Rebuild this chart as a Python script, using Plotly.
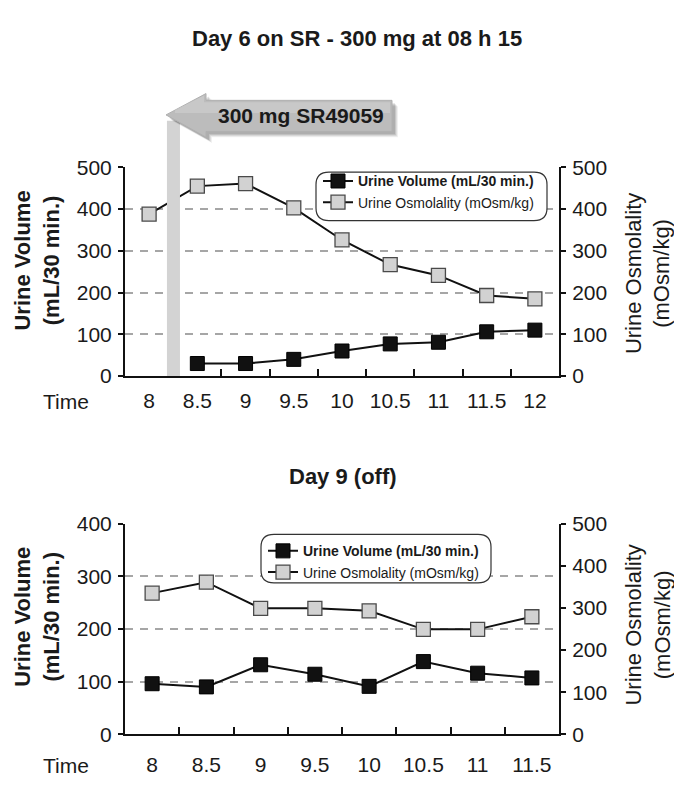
import plotly.graph_objects as go

W, H = 674, 788
FONT = "Liberation Sans, Arial, Helvetica, sans-serif"
INK = "#1a1a1a"

# ---- Day 6: on SR49059, 300 mg given at 08 h 15 ----
times_day6 = [8, 8.5, 9, 9.5, 10, 10.5, 11, 11.5, 12]
labels_day6 = ["8", "8.5", "9", "9.5", "10", "10.5", "11", "11.5", "12"]
volume_times_day6 = [8.5, 9, 9.5, 10, 10.5, 11, 11.5, 12]
volume_day6 = [30, 30, 40, 60, 77, 81, 106, 110]          # mL/30 min
osmolality_day6 = [388, 455, 461, 403, 326, 267, 241, 193, 185]  # mOsm/kg
dose_time = 8.25
dose_label = "300 mg SR49059"

# ---- Day 9: off treatment ----
times_day9 = [8, 8.5, 9, 9.5, 10, 10.5, 11, 11.5]
labels_day9 = ["8", "8.5", "9", "9.5", "10", "10.5", "11", "11.5"]
volume_day9 = [96, 90, 132, 114, 91, 138, 116, 107]
osmolality_day9 = [335, 361, 299, 299, 293, 249, 249, 279]

vol_name = "<b>Urine Volume (mL/30 min.)</b>"
osm_name = "Urine Osmolality (mOsm/kg)"


def px(x):
    return x / W


def py(y):
    return 1 - y / H


def as_label(t):
    return f"{t:g}"


# panel frames (pixels)
X0, X1 = 125, 559
TOP_Y0, TOP_Y1 = 160, 375
BOT_Y0, BOT_Y1 = 527, 744

fig = go.Figure()

vol_style = dict(mode="lines+markers",
                 line=dict(color="#111111", width=2),
                 marker=dict(symbol="square", size=14, color="#111111",
                             line=dict(color="#000000", width=1)))
osm_style = dict(mode="lines+markers",
                 line=dict(color="#111111", width=2),
                 marker=dict(symbol="square", size=14, color="#d2d2d2",
                             line=dict(color="#4a4a4a", width=1.3)))

fig.add_trace(go.Scatter(x=[as_label(t) for t in volume_times_day6],
                         y=volume_day6, name=vol_name,
                         xaxis="x", yaxis="y", legend="legend", **vol_style))
fig.add_trace(go.Scatter(x=[as_label(t) for t in times_day6],
                         y=osmolality_day6, name=osm_name,
                         xaxis="x", yaxis="y2", legend="legend", **osm_style))
fig.add_trace(go.Scatter(x=[as_label(t) for t in times_day9],
                         y=volume_day9, name=vol_name,
                         xaxis="x2", yaxis="y3", legend="legend2", **vol_style))
fig.add_trace(go.Scatter(x=[as_label(t) for t in times_day9],
                         y=osmolality_day9, name=osm_name,
                         xaxis="x2", yaxis="y4", legend="legend2", **osm_style))

tickfont = dict(family=FONT, size=21, color=INK)


def xaxis(domain, labels, anchor, standoff):
    return dict(domain=domain, type="category", categoryorder="array",
                categoryarray=labels, range=[-0.5, len(labels) - 0.5],
                anchor=anchor, tickson="boundaries", ticks="inside",
                ticklen=7, tickwidth=2, tickcolor="#111111", tickangle=0,
                tickfont=tickfont, ticklabelstandoff=standoff,
                showline=True, linecolor="#111111", linewidth=2,
                showgrid=False, zeroline=False, fixedrange=True)


def yaxis(domain, rng, anchor, side="left", grid=False, overlaying=None,
          labels=True, ticks="outside", line=True):
    d = dict(domain=domain, range=rng, anchor=anchor, side=side,
             dtick=100, tick0=0, ticks=ticks, ticklen=5, tickwidth=2,
             tickcolor="#111111", showticklabels=labels, tickfont=tickfont,
             ticklabelstandoff=2,
             showline=line, linecolor="#111111", linewidth=2,
             showgrid=grid, gridcolor="#a6a6a6", gridwidth=1.7,
             griddash="8px,7px", zeroline=False, fixedrange=True)
    if overlaying:
        d["overlaying"] = overlaying
    return d


top_dom = [py(TOP_Y1), py(TOP_Y0)]
bot_dom = [py(BOT_Y1), py(BOT_Y0)]
x_dom = [px(X0), px(X1)]

fig.update_layout(
    width=W, height=H,
    margin=dict(l=0, r=0, t=0, b=0),
    paper_bgcolor="white", plot_bgcolor="white",
    font=dict(family=FONT, color=INK),
    xaxis=xaxis(x_dom, labels_day6, "y", 5),
    xaxis2=xaxis(x_dom, labels_day9, "y3", 11),
    yaxis=yaxis(top_dom, [0, 500], "x", grid=True),
    yaxis2=yaxis(top_dom, [0, 500], "x", side="right", overlaying="y"),
    yaxis3=yaxis(bot_dom, [0, 400], "x2", grid=True),
    yaxis4=yaxis(bot_dom, [0, 500], "x2", side="right", overlaying="y3"),
    # inner halves of the crossing tick marks
    yaxis5=yaxis(top_dom, [0, 500], "x", overlaying="y", labels=False,
                 ticks="inside", line=False),
    yaxis6=yaxis(top_dom, [0, 500], "x", side="right", overlaying="y",
                 labels=False, ticks="inside", line=False),
    yaxis7=yaxis(bot_dom, [0, 400], "x2", overlaying="y3", labels=False,
                 ticks="inside", line=False),
    yaxis8=yaxis(bot_dom, [0, 500], "x2", side="right", overlaying="y3",
                 labels=False, ticks="inside", line=False),
    legend=dict(x=px(318), y=py(158), xanchor="left", yanchor="top",
                bgcolor="rgba(0,0,0,0)", borderwidth=0, tracegroupgap=0,
                font=dict(family=FONT, size=14, color=INK)),
    legend2=dict(x=px(263), y=py(539), xanchor="left", yanchor="top",
                 bgcolor="rgba(0,0,0,0)", borderwidth=0, tracegroupgap=0,
                 font=dict(family=FONT, size=14, color=INK)),
    showlegend=True,
)


def rounded_box(x0, y0, x1, y1, r):
    pts = [
        f"M {px(x0 + r)},{py(y0)}",
        f"L {px(x1 - r)},{py(y0)}",
        f"Q {px(x1)},{py(y0)} {px(x1)},{py(y0 + r)}",
        f"L {px(x1)},{py(y1 - r)}",
        f"Q {px(x1)},{py(y1)} {px(x1 - r)},{py(y1)}",
        f"L {px(x0 + r)},{py(y1)}",
        f"Q {px(x0)},{py(y1)} {px(x0)},{py(y1 - r)}",
        f"L {px(x0)},{py(y0 + r)}",
        f"Q {px(x0)},{py(y0)} {px(x0 + r)},{py(y0)}",
        "Z",
    ]
    return " ".join(pts)


def polygon(points, dx=0, dy=0):
    s = " ".join(("M" if i == 0 else "L") + f" {px(x + dx)},{py(y + dy)}"
                 for i, (x, y) in enumerate(points))
    return s + " Z"


# legend frames
for box in [(316, 165, 547, 215), (261, 538, 491, 588)]:
    fig.add_shape(type="path", path=rounded_box(*box, 13), xref="paper",
                  yref="paper", fillcolor="white",
                  line=dict(color="#333333", width=1.2), layer="above")

# dosing bar rising from the time axis at 08 h 15 (category index units)
step = times_day6[1] - times_day6[0]
dose_pos = (dose_time - times_day6[0]) / step
fig.add_shape(type="rect", xref="x", yref="paper",
              x0=dose_pos - 0.13, x1=dose_pos + 0.14,
              y0=py(TOP_Y1), y1=py(112),
              fillcolor="#d3d3d3", line=dict(width=0), layer="above")

# left-pointing dose arrow with a soft drop shadow
arrow_pts = [(166, 106), (206, 84), (206, 91), (392, 91), (392, 123),
             (206, 123), (206, 129)]
for off, alpha in [(6, 0.06), (5, 0.08), (4, 0.10), (3, 0.12)]:
    fig.add_shape(type="path", path=polygon(arrow_pts, off, off),
                  xref="paper", yref="paper",
                  fillcolor=f"rgba(0,0,0,{alpha})", line=dict(width=0),
                  layer="above")
fig.add_shape(type="path", path=polygon(arrow_pts), xref="paper",
              yref="paper", fillcolor="#bcbcbc",
              line=dict(color="#b0b0b0", width=1), layer="above")
# lighter upper half of the arrow body
fig.add_shape(type="path",
              path=polygon([(175, 101), (204, 86), (204, 93), (390, 93),
                            (390, 104), (175, 104)]),
              xref="paper", yref="paper", fillcolor="rgba(255,255,255,0.18)",
              line=dict(width=0), layer="above")

ann = []


def text(t, x, y, size, angle=0, xanchor="center"):
    ann.append(dict(text=t, x=px(x), y=py(y), xref="paper", yref="paper",
                    showarrow=False, textangle=angle, xanchor=xanchor,
                    yanchor="middle",
                    font=dict(family=FONT, size=size, color=INK)))


text("<b>Day 6 on SR - 300 mg at 08 h 15</b>", 357, 27, 22)
text("<b>Day 9 (off)</b>", 343, 478, 22)
text(f"<b>{dose_label}</b>", 301, 107, 21)
text("<b>Urine Volume<br>(mL/30 min.)</b>", 37, 256, 22, -90)
text("<b>Urine Volume<br>(mL/30 min.)</b>", 37, 623, 22, -90)
text("Urine Osmolality<br>(mOsm/kg)", 648, 270, 22, -90)
text("Urine Osmolality<br>(mOsm/kg)", 648, 632, 22, -90)
text("Time", 66, 401, 21)
text("Time", 66, 776, 21)
fig.update_layout(annotations=ann)

fig.write_html("out.html")
